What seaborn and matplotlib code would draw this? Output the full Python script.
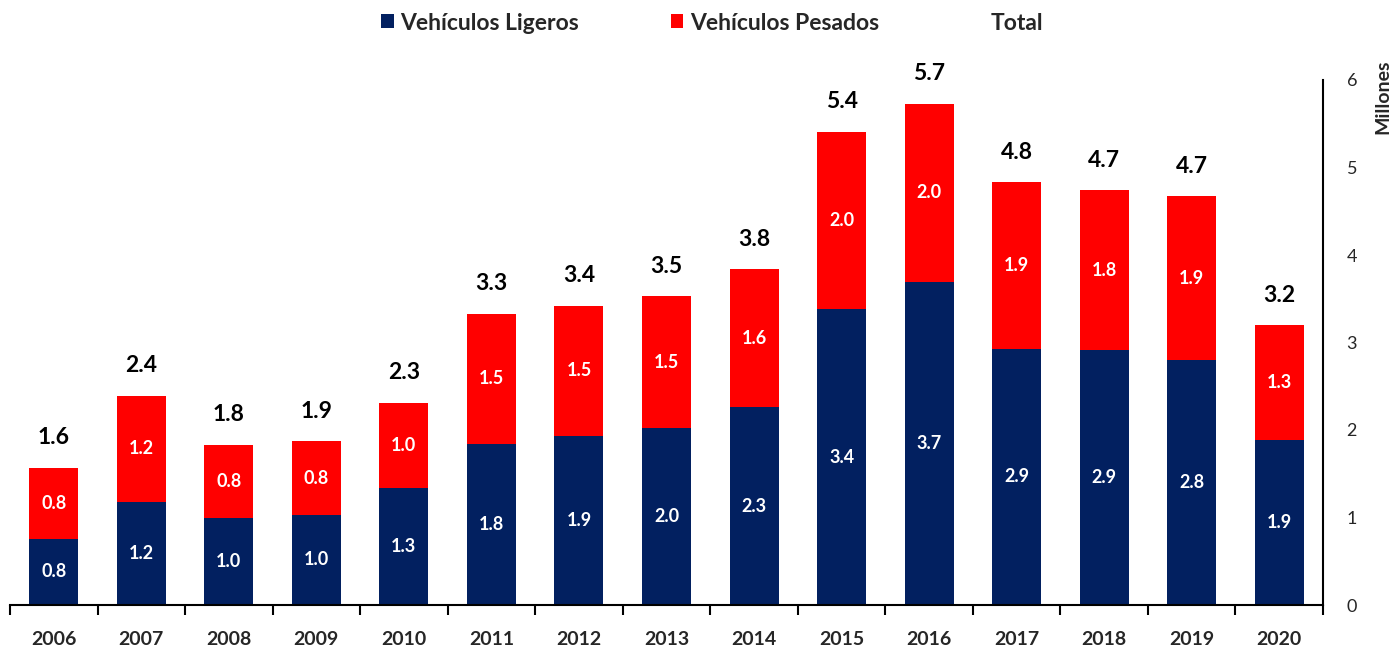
import matplotlib
matplotlib.use("Agg")
import matplotlib.pyplot as plt
import seaborn as sns
import pandas as pd
import numpy as np
from matplotlib.patches import Patch
from matplotlib.lines import Line2D

years = ["2006", "2007", "2008", "2009", "2010", "2011", "2012", "2013",
         "2014", "2015", "2016", "2017", "2018", "2019", "2020"]
ligeros = [0.76, 1.18, 0.99, 1.03, 1.34, 1.84, 1.93, 2.02, 2.26, 3.38, 3.69, 2.93, 2.91, 2.80, 1.89]
pesados = [0.81, 1.21, 0.84, 0.84, 0.97, 1.49, 1.49, 1.51, 1.58, 2.03, 2.04, 1.90, 1.83, 1.87, 1.31]

NAVY = "#022060"
RED = "#FF0000"
FONT = "Lato"

sns.set_theme(style="white")
plt.rcParams["font.family"] = [FONT, "DejaVu Sans"]

df = pd.DataFrame({"year": years, "ligeros": ligeros, "pesados": pesados})
df["total"] = df["ligeros"] + df["pesados"]

fig = plt.figure(figsize=(13.92, 6.48), dpi=100)
ax = fig.add_axes([10 / 1392, 1 - 605 / 648, (1323 - 10) / 1392, 525 / 648])

sns.barplot(data=df, x="year", y="total", color=RED, width=0.56, ax=ax,
            saturation=1, edgecolor="none")
sns.barplot(data=df, x="year", y="ligeros", color=NAVY, width=0.56, ax=ax,
            saturation=1, edgecolor="none")

ax.set_xlim(-0.5, len(years) - 0.5)
ax.set_ylim(0, 6)

for i, row in df.iterrows():
    ax.text(i, row["ligeros"] / 2, f"{row['ligeros']:.1f}", ha="center", va="center",
            color="white", fontsize=13, fontweight="bold")
    ax.text(i, row["ligeros"] + row["pesados"] / 2, f"{row['pesados']:.1f}", ha="center",
            va="center", color="white", fontsize=13, fontweight="bold")
    ax.annotate(f"{row['total']:.1f}", (i, row["total"]), xytext=(0, 14),
                textcoords="offset points", ha="center", va="bottom",
                fontsize=16.5, fontweight="bold", color="black", annotation_clip=False)

# spines
for s in ["top", "left"]:
    ax.spines[s].set_visible(False)
for s in ["bottom", "right"]:
    ax.spines[s].set_visible(True)
    ax.spines[s].set_color("black")
    ax.spines[s].set_linewidth(1.5)

ax.set_xlabel("")
ax.set_ylabel("")
ax.grid(False)

# x ticks: labels at centers, marks at boundaries
ax.set_xticks(range(len(years)))
ax.set_xticklabels(years, fontsize=14, fontweight="bold")
ax.set_xticks(np.arange(-0.5, len(years), 1.0), minor=True)
ax.tick_params(axis="x", which="major", length=0, pad=19)
ax.tick_params(axis="x", which="minor", length=7, width=1.5, color="black", direction="out", bottom=True)

# y axis on right
ax.yaxis.tick_right()
ax.set_yticks(range(0, 7))
ax.set_yticklabels([str(v) for v in range(0, 7)], fontsize=13)
ax.tick_params(axis="y", length=0, pad=17, right=True, left=False)

fig.text(1383 / 1392, 1 - 60 / 648, "Millones", rotation=90, ha="center", va="top",
         fontsize=14, fontweight="bold")

handles = [Patch(facecolor=NAVY, edgecolor="none"),
           Patch(facecolor=RED, edgecolor="none"),
           Line2D([], [], color="none")]
labels = ["Vehículos Ligeros", "Vehículos Pesados", "Total"]
fig.legend(handles, labels, loc="center", bbox_to_anchor=(712 / 1392, 1 - 23 / 648),
           ncol=3, frameon=False, prop={"family": FONT, "weight": "bold", "size": 16.5},
           handlelength=0.55, handleheight=0.55, handletextpad=0.3, columnspacing=4.0)

fig.savefig("out.png", dpi=100)
